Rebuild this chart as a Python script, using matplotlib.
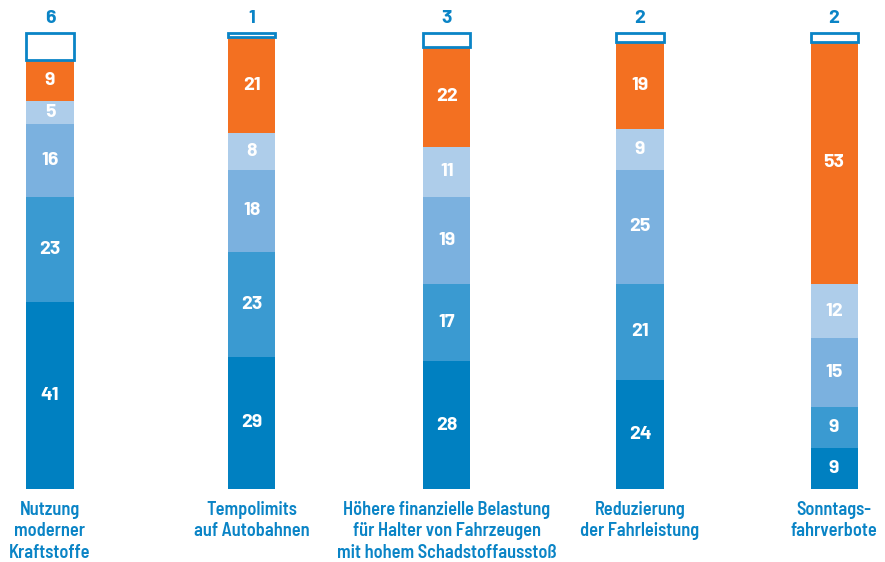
import numpy as np
import matplotlib.pyplot as plt

# Daten
kategorien = ["Nutzung\nmoderner\nKraftstoffe",
              "Tempolimits\nauf Autobahnen",
              "Höhere finanzielle Belastung\nfür Halter von Fahrzeugen\nmit hohem Schadstoffausstoß",
              "Reduzierung\nder Fahrleistung",
              "Sonntags-\nfahrverbote"]
s1 = [41, 29, 28, 24, 9]
s2 = [23, 23, 17, 21, 9]
s3 = [16, 18, 19, 25, 15]
s4 = [5, 8, 11, 9, 12]
s5 = [9, 21, 22, 19, 53]
s6 = [6, 1, 3, 2, 2]

farben = ["#0080C1", "#3A9AD1", "#7BB1DF", "#AECDEA", "#F37021"]
blau = "#0A84C6"

plt.rcParams['font.family'] = ['Barlow Semi Condensed', 'DejaVu Sans']
zahlen_font = ['Barlow', 'DejaVu Sans']

fig = plt.figure(figsize=(8.85, 5.62), dpi=100)
ax = fig.add_axes([0, 0, 1, 1])

# Balkenpositionen (leicht ungleichmäßig wie im Original)
x = np.array([0, 1.03, 2.025, 3.01, 4.0])
breite = 0.24
bottom = np.zeros(len(x))
for werte, farbe in zip([s1, s2, s3, s4, s5], farben):
    ax.bar(x, werte, breite, bottom=bottom, color=farbe, linewidth=0)
    for xi, b, v in zip(x, bottom, werte):
        ax.text(xi, b + v / 2, str(v), ha="center", va="center", family=zahlen_font,
                color="white", fontsize=14, fontweight="bold")
    bottom += np.array(werte)

# oberes Segment: weiß mit blauem Rand
ax.bar(x, s6, breite, bottom=bottom, color="white", edgecolor=blau, linewidth=2)
for xi, b, v in zip(x, bottom, s6):
    ax.text(xi, b + v + 1.2, str(v), ha="center", va="bottom", family=zahlen_font,
            color=blau, fontsize=14, fontweight="bold")

for xi, k in zip(x, kategorien):
    ax.text(xi, -2.6, k, ha="center", va="top", color=blau,
            fontsize=13.2, fontweight="semibold", linespacing=1.25)

ax.set_xlim(-0.255, 4.26)
ax.set_ylim(-16.0, 107.2)
ax.axis("off")

plt.savefig("out.png", dpi=100)
